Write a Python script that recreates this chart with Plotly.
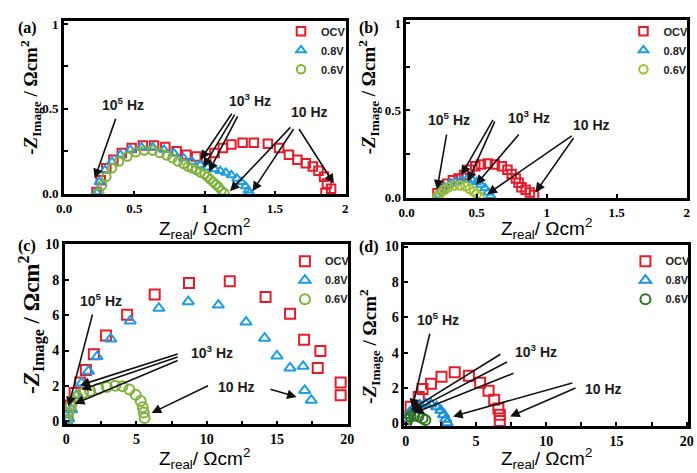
import plotly.graph_objects as go

SERIES = ["OCV", "0.8V", "0.6V"]
TICKS_A_X = [0, 0.5, 1, 1.5, 2]
TICKS_A_X_TEXT = ["0.0", "0.5", "1", "1.5", "2"]
TICKS_A_Y = [0, 0.25, 0.5, 0.75, 1]
TICKS_A_Y_TEXT = ["0.0", "", "0.5", "", "1"]
TICKS_C_X = [0, 2.5, 5, 7.5, 10, 12.5, 15, 17.5, 20]
TICKS_C_X_TEXT = ["0", "", "5", "", "10", "", "15", "", "20"]
TICKS_C_Y = [0, 2, 4, 6, 8, 10]
TICKS_C_Y_TEXT = ["0", "2", "4", "6", "8", "10"]

# ---- panel (a)
a_ocv_x = [0.23, 0.26, 0.30, 0.35, 0.41, 0.48, 0.56, 0.64, 0.72, 0.80, 0.87, 0.94, 1.01, 1.07, 1.13,
           1.19, 1.27, 1.35, 1.45, 1.53, 1.60, 1.66, 1.72, 1.77, 1.81, 1.85, 1.87, 1.90, 1.86]
a_ocv_y = [0.01, 0.08, 0.15, 0.20, 0.24, 0.27, 0.285, 0.285, 0.275, 0.25, 0.23, 0.22, 0.21, 0.24, 0.27,
           0.29, 0.30, 0.30, 0.295, 0.27, 0.23, 0.20, 0.18, 0.16, 0.135, 0.10, 0.06, 0.03, 0.005]
a_08_x = [0.23, 0.25, 0.29, 0.34, 0.40, 0.47, 0.55, 0.63, 0.71, 0.78, 0.85, 0.91, 0.97, 1.02, 1.07,
          1.11, 1.15, 1.19, 1.23, 1.26, 1.29, 1.31, 1.32]
a_08_y = [0.01, 0.07, 0.14, 0.19, 0.23, 0.26, 0.275, 0.275, 0.26, 0.24, 0.21, 0.19, 0.17, 0.155, 0.145,
          0.135, 0.125, 0.11, 0.09, 0.07, 0.045, 0.02, 0.005]
a_06_x = [0.25, 0.27, 0.30, 0.34, 0.39, 0.45, 0.51, 0.57, 0.63, 0.68, 0.73, 0.77, 0.81, 0.85, 0.88,
          0.91, 0.94, 0.97, 1.00, 1.02, 1.04, 1.06, 1.08, 1.10, 1.12, 1.14]
a_06_y = [0.005, 0.05, 0.10, 0.15, 0.19, 0.22, 0.245, 0.255, 0.255, 0.24, 0.225, 0.21, 0.19, 0.175, 0.16,
          0.15, 0.14, 0.125, 0.115, 0.10, 0.085, 0.07, 0.055, 0.04, 0.02, 0.005]

# ---- panel (b)
b_ocv_x = [0.22, 0.25, 0.29, 0.33, 0.37, 0.41, 0.45, 0.49, 0.53, 0.58, 0.63, 0.68, 0.72, 0.75, 0.78,
           0.80, 0.82, 0.85, 0.88, 0.91]
b_ocv_y = [0.025, 0.05, 0.08, 0.10, 0.11, 0.13, 0.16, 0.18, 0.19, 0.195, 0.19, 0.18, 0.16, 0.135, 0.11,
           0.085, 0.06, 0.045, 0.03, 0.015]
b_08_x = [0.22, 0.24, 0.27, 0.31, 0.35, 0.39, 0.43, 0.47, 0.50, 0.53, 0.56, 0.58, 0.60]
b_08_y = [0.01, 0.04, 0.06, 0.08, 0.09, 0.10, 0.105, 0.10, 0.09, 0.075, 0.055, 0.03, 0.01]
b_06_x = [0.22, 0.24, 0.27, 0.30, 0.34, 0.38, 0.42, 0.45, 0.48, 0.50, 0.52]
b_06_y = [0.005, 0.025, 0.045, 0.06, 0.07, 0.07, 0.065, 0.05, 0.035, 0.02, 0.005]

# ---- panel (c)
c_ocv_x = [0.1, 0.3, 0.6, 1.0, 1.4, 1.97, 2.83, 4.34, 6.30, 8.74, 11.64, 14.19, 15.93, 16.93, 18.09,
           17.9, 19.53, 19.53]
c_ocv_y = [0.3, 0.9, 1.6, 2.2, 2.9, 3.79, 4.85, 6.03, 7.16, 7.81, 7.91, 7.03, 6.08, 4.61, 3.97,
           3.02, 2.20, 1.48]
c_08_x = [0.05, 0.18, 0.39, 0.74, 1.09, 1.59, 2.2, 3.17, 4.56, 6.6, 8.69, 10.83, 12.8, 14.12, 15.0,
          15.93, 16.86, 16.97, 17.44]
c_08_y = [0.05, 0.16, 0.66, 1.48, 2.17, 2.84, 3.66, 4.66, 5.67, 6.39, 6.76, 6.57, 5.61, 4.70, 3.70,
          3.02, 3.11, 1.75, 1.20]
c_06_x = [0.05, 0.15, 0.3, 0.5, 0.8, 1.2, 1.7, 2.3, 2.9, 3.5, 4.0, 4.5, 4.95, 5.3, 5.45, 5.52, 5.58]
c_06_y = [0.1, 0.5, 0.85, 1.15, 1.4, 1.6, 1.72, 1.85, 1.95, 2.02, 1.98, 1.8, 1.5, 1.15, 0.8, 0.5, 0.2]

# ---- panel (d)
d_ocv_x = [0.1, 0.35, 0.93, 1.2, 1.8, 2.55, 3.49, 4.5, 5.3, 5.9, 6.3, 6.6, 6.7, 6.7]
d_ocv_y = [0.4, 0.95, 1.5, 1.95, 2.25, 2.65, 2.9, 2.7, 2.3, 1.85, 1.35, 0.85, 0.5, 0.15]
d_08_x = [0.1, 0.3, 0.6, 1.0, 1.4, 1.8, 2.2, 2.5, 2.7, 2.85, 2.95]
d_08_y = [0.3, 0.65, 0.9, 1.05, 1.12, 1.1, 0.95, 0.75, 0.5, 0.25, 0.05]
d_06_x = [0.05, 0.15, 0.35, 0.6, 0.9, 1.2, 1.4]
d_06_y = [0.05, 0.25, 0.4, 0.45, 0.4, 0.3, 0.2]

RED = "#e31d2b"
BLUE = "#1e9de0"
GREEN = "#7fb13c"
GREEN_B = "#9dbf34"
GREEN_D = "#2f7320"
SYMBOLS = ["square-open", "triangle-up-open", "circle-open"]

panels = [
    ("x", "y", "legend", [(a_ocv_x, a_ocv_y), (a_08_x, a_08_y), (a_06_x, a_06_y)], [RED, BLUE, GREEN], 8.5),
    ("x2", "y2", "legend2", [(b_ocv_x, b_ocv_y), (b_08_x, b_08_y), (b_06_x, b_06_y)], [RED, BLUE, GREEN_B], 8.5),
    ("x3", "y3", "legend3", [(c_ocv_x, c_ocv_y), (c_08_x, c_08_y), (c_06_x, c_06_y)], [RED, BLUE, GREEN], 10),
    ("x4", "y4", "legend4", [(d_ocv_x, d_ocv_y), (d_08_x, d_08_y), (d_06_x, d_06_y)], [RED, "#1a8fd8", GREEN_D], 10),
]

fig = go.Figure()
for xa, ya, lg, data, cols, msize in panels:
    for (xs, ys), name, col, sym in zip(data, SERIES, cols, SYMBOLS):
        fig.add_trace(go.Scatter(
            x=xs, y=ys, mode="markers", name=name, xaxis=xa, yaxis=ya, legend=lg,
            marker=dict(symbol=sym, size=msize, color=col, line=dict(width=2, color=col)),
        ))

def axc(size):
    return dict(showline=True, linecolor="black", linewidth=2.5, mirror=True, ticks="inside",
                ticklen=4, tickwidth=1.5, tickcolor="black", showgrid=False, zeroline=False,
                tickfont=dict(family="Liberation Serif", size=size, color="black", weight="bold"),
                tickmode="array", fixedrange=True, ticklabeloverflow="allow")

def W(px):
    return px / 697.0

def H(py):
    return 1 - py / 473.0

layout = dict(
    width=697, height=473, margin=dict(l=0, r=0, t=0, b=0),
    paper_bgcolor="white", plot_bgcolor="white", showlegend=True,
    xaxis=dict(domain=[W(57), W(345)], anchor="y", range=[-0.003, 2.003], tickvals=TICKS_A_X, ticktext=TICKS_A_X_TEXT, **axc(13)),
    yaxis=dict(domain=[H(193), H(14)], anchor="x", range=[-0.003, 1.02], tickvals=TICKS_A_Y, ticktext=TICKS_A_Y_TEXT, **axc(13)),
    xaxis2=dict(domain=[W(407), W(694)], anchor="y2", range=[-0.003, 2.003], tickvals=TICKS_A_X, ticktext=TICKS_A_X_TEXT, **axc(13)),
    yaxis2=dict(domain=[H(197), H(13)], anchor="x2", range=[-0.003, 1.02], tickvals=TICKS_A_Y, ticktext=TICKS_A_Y_TEXT, **axc(13)),
    xaxis3=dict(domain=[W(58), W(347)], anchor="y3", range=[-0.1, 20.02], tickvals=TICKS_C_X, ticktext=TICKS_C_X_TEXT, **axc(14)),
    yaxis3=dict(domain=[H(430), H(244)], anchor="x3", range=[-0.16, 10.03], tickvals=TICKS_C_Y, ticktext=TICKS_C_Y_TEXT, **axc(14)),
    xaxis4=dict(domain=[W(405), W(695)], anchor="y4", range=[-0.1, 20.1], tickvals=TICKS_C_X, ticktext=TICKS_C_X_TEXT, **axc(14)),
    yaxis4=dict(domain=[H(432), H(245)], anchor="x4", range=[-0.15, 10.1], tickvals=TICKS_C_Y, ticktext=TICKS_C_Y_TEXT, **axc(14)),
)

legfont = dict(family="Liberation Sans", size=11, color="#222", weight="bold")
for key, lx, ly in [("legend", 279, 10), ("legend2", 629, 10), ("legend3", 283, 247), ("legend4", 631, 247)]:
    layout[key] = dict(x=W(lx), y=H(ly), xanchor="left", yanchor="top", bgcolor="rgba(0,0,0,0)",
                       font=legfont, itemwidth=30, tracegroupgap=0)

fig.update_layout(**layout)

ann = []
HZ5 = "10<sup>5</sup> Hz"
HZ3 = "10<sup>3</sup> Hz"
HZ1 = "10 Hz"
labfont = dict(family="Liberation Sans", size=14, color="#1a1a1a", weight="bold")

def label(xr, yr, x, y, t):
    ann.append(dict(x=x, y=y, xref=xr, yref=yr, text=t, showarrow=False, font=labfont,
                    xanchor="center", yanchor="middle"))

def arrow(xr, yr, tail, head):
    ann.append(dict(x=head[0], y=head[1], ax=tail[0], ay=tail[1], xref=xr, yref=yr, axref=xr, ayref=yr,
                    text="", showarrow=True, arrowhead=2, arrowsize=1.2, arrowwidth=1.6, arrowcolor="#111"))

# (a)
label("x", "y", 0.42, 0.53, HZ5)
arrow("x", "y", (0.37, 0.45), (0.217, 0.09))
label("x", "y", 1.32, 0.55, HZ3)
arrow("x", "y", (1.20, 0.48), (0.97, 0.20))
arrow("x", "y", (1.22, 0.475), (0.99, 0.156))
arrow("x", "y", (1.24, 0.465), (1.03, 0.13))
label("x", "y", 1.745, 0.48, HZ1)
arrow("x", "y", (1.62, 0.40), (1.18, 0.015))
arrow("x", "y", (1.64, 0.39), (1.34, 0.015))
arrow("x", "y", (1.665, 0.39), (1.92, 0.06))
# (b)
label("x2", "y2", 0.30, 0.45, HZ5)
arrow("x2", "y2", (0.287, 0.37), (0.217, 0.047))
label("x2", "y2", 0.877, 0.46, HZ3)
arrow("x2", "y2", (0.623, 0.454), (0.39, 0.13))
arrow("x2", "y2", (0.634, 0.444), (0.4375, 0.093))
arrow("x2", "y2", (0.81, 0.37), (0.495, 0.074))
label("x2", "y2", 1.317, 0.415, HZ1)
arrow("x2", "y2", (1.19, 0.36), (0.576, 0.02))
arrow("x2", "y2", (1.20, 0.35), (0.92, 0.03))
# (c)
label("x3", "y3", 2.48, 6.85, HZ5)
arrow("x3", "y3", (1.9, 6.12), (0.16, 0.84))
label("x3", "y3", 10.36, 3.93, HZ3)
arrow("x3", "y3", (8.04, 3.84), (1.0, 2.05))
arrow("x3", "y3", (8.04, 3.66), (1.09, 1.8))
arrow("x3", "y3", (8.04, 3.48), (0.62, 1.0))
label("x3", "y3", 12.1, 1.93, HZ1)
arrow("x3", "y3", (10.2, 2.06), (6.08, 0.48))
arrow("x3", "y3", (14.43, 1.84), (16.4, 1.38))
# (d)
label("x4", "y4", 2.32, 5.9, HZ5)
arrow("x4", "y4", (1.74, 5.16), (0.46, 0.86))
label("x4", "y4", 9.3, 4.07, HZ3)
arrow("x4", "y4", (6.85, 3.97), (0.35, 0.77))
arrow("x4", "y4", (7.32, 3.52), (0.46, 0.68))
arrow("x4", "y4", (7.78, 2.87), (0.58, 0.59))
label("x4", "y4", 14.06, 1.96, HZ1)
arrow("x4", "y4", (11.97, 2.32), (3.37, 0.4))
arrow("x4", "y4", (12.2, 2.05), (7.43, 0.4))

# axis titles and panel letters
ytitle = "<i>-Z</i><sub>Image</sub> / Ωcm<sup>2</sup>"
xtitle = "Z<sub>real</sub>/ Ωcm<sup>2</sup>"
xtfont = dict(family="Liberation Sans", size=19, color="black")
for px, py, fs in [(23, 93, 19), (368, 93, 19), (24, 327, 23), (370, 350, 19)]:
    ann.append(dict(x=W(px), y=H(py), xref="paper", yref="paper", text=ytitle, textangle=-90,
                    showarrow=False, xanchor="center", yanchor="middle",
                    font=dict(family="Liberation Serif", size=fs, color="black", weight="bold")))
for px, py in [(201, 228), (550, 228), (201, 465), (550, 465)]:
    ann.append(dict(x=W(px), y=H(py), xref="paper", yref="paper", text=xtitle, showarrow=False,
                    font=xtfont, xanchor="center", yanchor="middle"))
pfont = dict(family="Liberation Serif", size=16, color="black", weight="bold")
for t, px, py in [("(a)", 20, 22), ("(b)", 369, 22), ("(c)", 19, 246), ("(d)", 369, 247)]:
    ann.append(dict(x=W(px), y=H(py), xref="paper", yref="paper", text=t, showarrow=False, font=pfont,
                    xanchor="center", yanchor="middle"))

fig.update_layout(annotations=ann)
fig.write_html("out.html")
